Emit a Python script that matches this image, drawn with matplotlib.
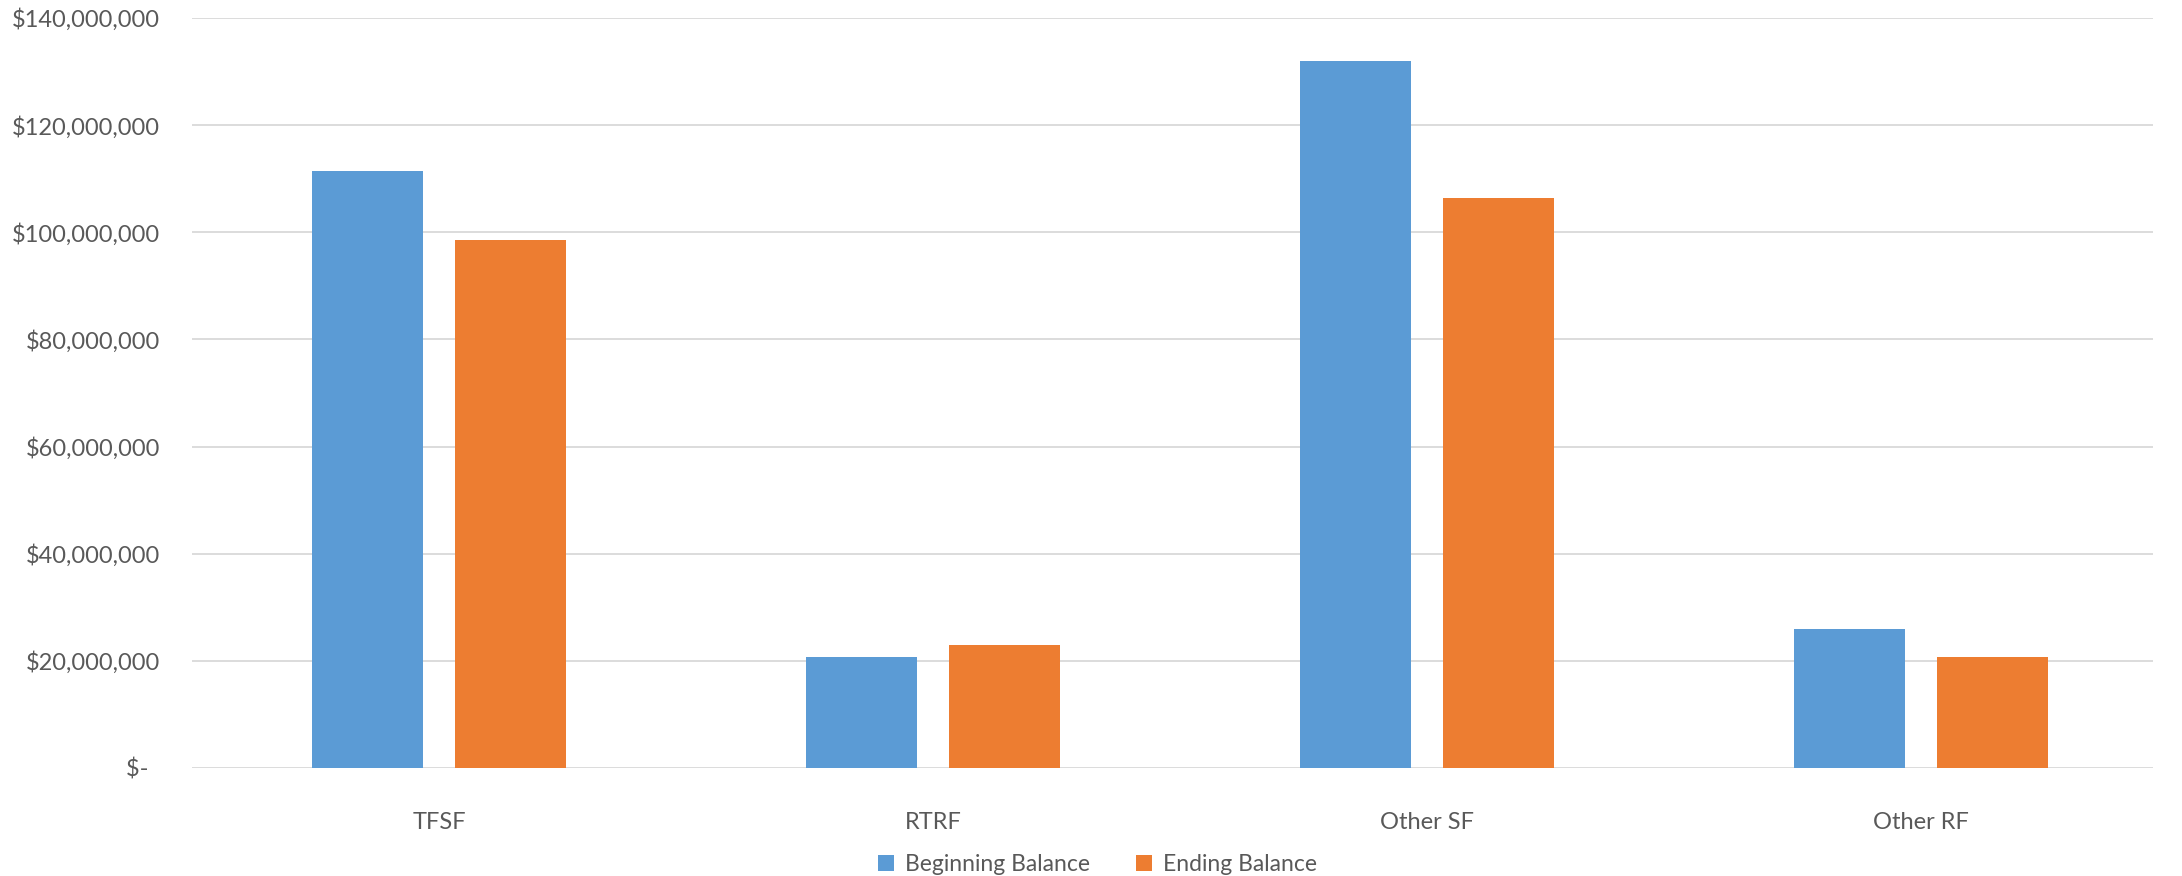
import numpy as np
import matplotlib
matplotlib.use("Agg")
import matplotlib.pyplot as plt
from matplotlib.ticker import FuncFormatter, MultipleLocator

categories = ["TFSF", "RTRF", "Other SF", "Other RF"]
beginning = [111.5e6, 20.7e6, 132.0e6, 26.0e6]
ending = [98.6e6, 23.0e6, 106.4e6, 20.7e6]

blue = "#5B9BD5"
orange = "#ED7D31"
text_color = "#595959"
grid_color = "#D9D9D9"

plt.rcParams['font.family'] = ['Lato', 'DejaVu Sans']

fig = plt.figure(figsize=(21.82, 8.76), dpi=100)
ax = fig.add_axes([0.088, 0.1233, 0.8987, 0.8562])

x = np.arange(len(categories))
w = 0.225
off = w / 2 + 0.032
ax.bar(x - off, beginning, width=w, color=blue, label="Beginning Balance", zorder=3)
ax.bar(x + off, ending, width=w, color=orange, label="Ending Balance", zorder=3)

ax.set_xlim(-0.5, len(categories) - 0.53)
ax.set_ylim(0, 140e6)
ax.yaxis.set_major_locator(MultipleLocator(20e6))


def money(v, pos):
    if v == 0:
        return "$-  "
    return "${:,.0f}".format(v)


ax.yaxis.set_major_formatter(FuncFormatter(money))
ax.set_xticks(x)
ax.set_xticklabels(categories)

ax.grid(axis='y', color=grid_color, linewidth=1.3, zorder=0)
for s in ax.spines.values():
    s.set_visible(False)
ax.tick_params(axis='both', length=0, labelsize=17, colors=text_color)
ax.tick_params(axis='y', pad=23)
ax.tick_params(axis='x', pad=32)

leg = fig.legend(loc='center', bbox_to_anchor=(0.503, 0.013), ncol=2, frameon=False,
                 fontsize=16.5, handlelength=0.7, handleheight=0.7, handletextpad=0.5,
                 columnspacing=2.0)
for t in leg.get_texts():
    t.set_color(text_color)

fig.savefig("out.png", dpi=100)
